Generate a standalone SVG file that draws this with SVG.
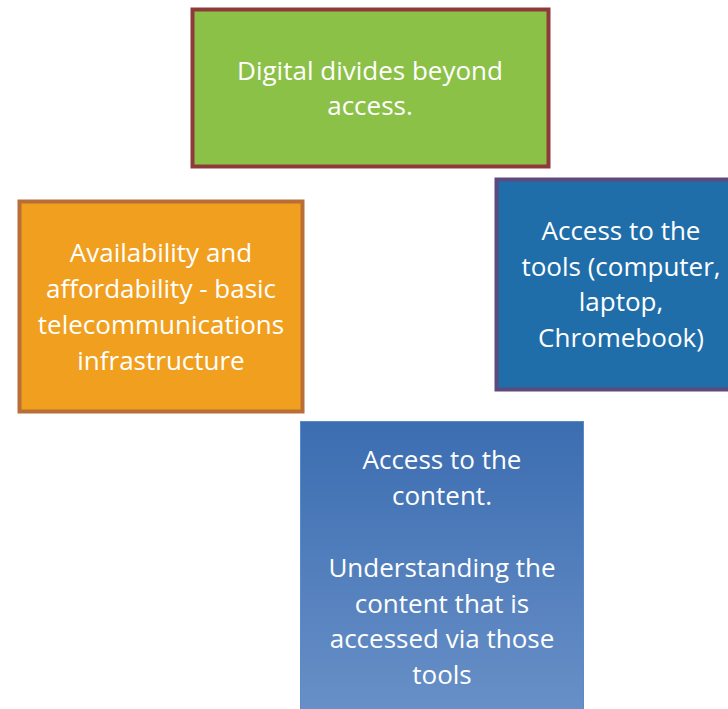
<svg xmlns="http://www.w3.org/2000/svg" width="728" height="709" viewBox="0 0 728 709">
<style>
  text { font-family: "Open Sans", Lato, "Liberation Sans", sans-serif; font-size: 26px; fill: #ffffff; text-anchor: middle; }
</style>
<defs>
  <linearGradient id="gBlue" x1="0" y1="0" x2="0" y2="1">
    <stop offset="0" stop-color="#3B6DB1"/>
    <stop offset="1" stop-color="#6A91C8"/>
  </linearGradient>
</defs>
<rect width="728" height="709" fill="#ffffff"/>
<g id="node-digital">
  <rect x="192.5" y="9.5" width="356" height="157" fill="#8CC148" stroke="#8F3A3A" stroke-width="4"/>
  <text x="370" y="80">Digital divides beyond</text>
  <text x="370" y="115">access.</text>
</g>
<g id="node-availability">
  <rect x="19.5" y="201.5" width="283" height="210" fill="#F19F1F" stroke="#B86E36" stroke-width="4"/>
  <text x="161" y="262">Availability and</text>
  <text x="161" y="298">affordability - basic</text>
  <text x="161" y="334">telecommunications</text>
  <text x="161" y="370">infrastructure</text>
</g>
<g id="node-tools">
  <rect x="496.5" y="179.5" width="240" height="210" fill="#1F6EAA" stroke="#5E4A7E" stroke-width="4"/>
  <text x="621" y="240">Access to the</text>
  <text x="621" y="276">tools (computer,</text>
  <text x="621" y="311">laptop,</text>
  <text x="621" y="347">Chromebook)</text>
</g>
<g id="node-content">
  <rect x="300.5" y="421.5" width="283" height="300" fill="url(#gBlue)" stroke="#5A8BC9" stroke-width="1"/>
  <text x="442" y="469">Access to the</text>
  <text x="442" y="505">content.</text>
  <text x="442" y="577">Understanding the</text>
  <text x="442" y="613">content that is</text>
  <text x="442" y="648">accessed via those</text>
  <text x="442" y="684">tools</text>
</g>
<g id="connectors"></g>
</svg>
